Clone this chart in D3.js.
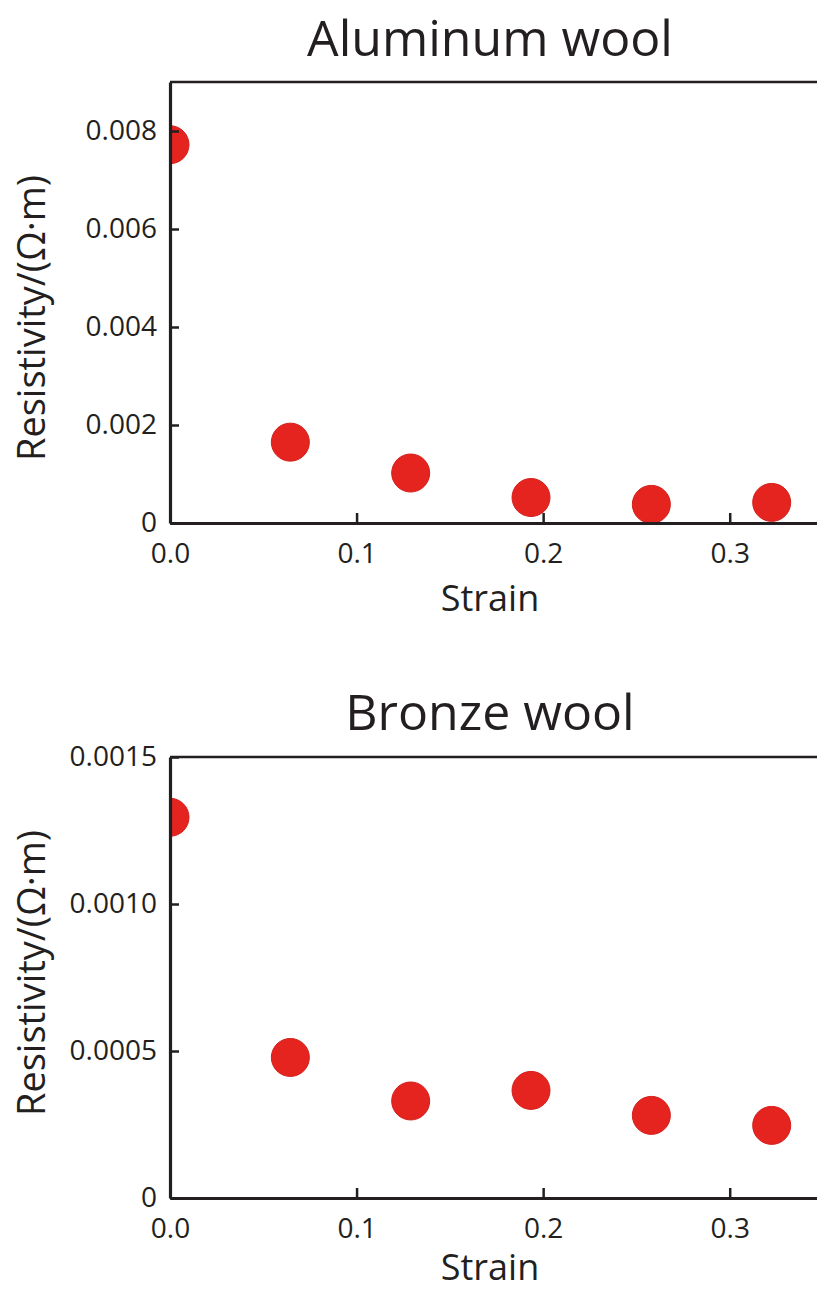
<!DOCTYPE html>
<html>
<head>
<meta charset="utf-8">
<script src="https://cdn.jsdelivr.net/npm/d3@7"></script>
<style>
  html, body { margin: 0; padding: 0; background: #fff; overflow: hidden; }
  svg { display: block; }
  text { font-family: "Open Sans", "Noto Sans", sans-serif; fill: #231f20; }
</style>
</head>
<body>
<svg id="chart" width="817" height="1291"></svg>
<script>
// ---- Data ----
const strain = [0, 0.0645, 0.129, 0.1935, 0.258, 0.3225];
const aluminumResistivity = [0.00772, 0.00165, 0.00102, 0.00052, 0.00038, 0.00042];
const bronzeResistivity = [0.001295, 0.000478, 0.00033, 0.000366, 0.000281, 0.000247];
const xTicks = [0.0, 0.1, 0.2, 0.3];
const xTickLabels = ["0.0", "0.1", "0.2", "0.3"];
const aluminumYTicks = [0, 0.002, 0.004, 0.006, 0.008];
const aluminumYTickLabels = ["0", "0.002", "0.004", "0.006", "0.008"];
const bronzeYTicks = [0, 0.0005, 0.0010, 0.0015];
const bronzeYTickLabels = ["0", "0.0005", "0.0010", "0.0015"];
const panelTitles = ["Aluminum wool", "Bronze wool"];
const xAxisTitle = "Strain";
const yAxisTitle = "Resistivity/(\u03A9\u00B7m)";

// ---- Layout ----
const svg = d3.select("#chart");
const left = 170, right = 823;
const panels = [
  { title: panelTitles[0], values: aluminumResistivity, yMax: 0.009, ticks: aluminumYTicks, labels: aluminumYTickLabels,
    top: 82, bottom: 523, titleY: 56, xTitleY: 611, yTitleCY: 318 },
  { title: panelTitles[1], values: bronzeResistivity, yMax: 0.0015, ticks: bronzeYTicks, labels: bronzeYTickLabels,
    top: 757, bottom: 1198, titleY: 730, xTitleY: 1280, yTitleCY: 973 }
];

const x = d3.scaleLinear().domain([0, 0.35]).range([left, right]);

panels.forEach((p, i) => {
  const y = d3.scaleLinear().domain([0, p.yMax]).range([p.bottom, p.top]);
  const g = svg.append("g");

  const clipId = "clip" + i;
  svg.append("defs").append("clipPath").attr("id", clipId)
    .append("rect").attr("x", left).attr("y", p.top).attr("width", right - left).attr("height", p.bottom - p.top);

  // points
  g.append("g").attr("clip-path", `url(#${clipId})`)
    .selectAll("circle").data(strain.map((s, k) => [s, p.values[k]])).join("circle")
    .attr("cx", d => x(d[0])).attr("cy", d => y(d[1])).attr("r", 19)
    .attr("fill", "#e6241f").attr("stroke", "#d31f1c").attr("stroke-width", 1);

  // top border
  g.append("line").attr("x1", left).attr("x2", 817 + 10).attr("y1", p.top).attr("y2", p.top)
    .attr("stroke", "#231f20").attr("stroke-width", 2.5);

  // x axis
  const xAxis = d3.axisBottom(x).tickValues(xTicks)
    .tickFormat((d, k) => xTickLabels[k]).tickSizeInner(-10).tickSizeOuter(0).tickPadding(20);
  const xg = g.append("g").attr("transform", `translate(0,${p.bottom})`).call(xAxis);
  xg.select(".domain").attr("stroke", "#231f20").attr("stroke-width", 3.2);
  xg.selectAll(".tick line").attr("stroke", "#231f20").attr("stroke-width", 2.5);
  xg.selectAll(".tick text").style("font-size", "28px").attr("fill", "#2b2a2a")
    .style("font-family", "'Open Sans', sans-serif");

  // y axis
  const yAxis = d3.axisLeft(y).tickValues(p.ticks)
    .tickFormat((d, k) => p.labels[k]).tickSizeInner(-9).tickSizeOuter(0).tickPadding(13);
  const yg = g.append("g").attr("transform", `translate(${left},0)`).call(yAxis);
  yg.select(".domain").attr("stroke", "#231f20").attr("stroke-width", 3.2);
  yg.selectAll(".tick line").attr("stroke", "#231f20").attr("stroke-width", 2.5);
  yg.selectAll(".tick text").style("font-size", "28px").attr("fill", "#2b2a2a")
    .style("font-family", "'Open Sans', sans-serif");

  // titles
  g.append("text").attr("x", 490).attr("y", p.titleY).attr("text-anchor", "middle")
    .style("font-size", "50px").text(p.title);
  g.append("text").attr("x", 490).attr("y", p.xTitleY).attr("text-anchor", "middle")
    .style("font-size", "36px").text(xAxisTitle);
  g.append("text").attr("transform", `translate(45,${p.yTitleCY}) rotate(-90)`).attr("text-anchor", "middle")
    .style("font-size", "38px").text(yAxisTitle);
});
</script>
</body>
</html>
